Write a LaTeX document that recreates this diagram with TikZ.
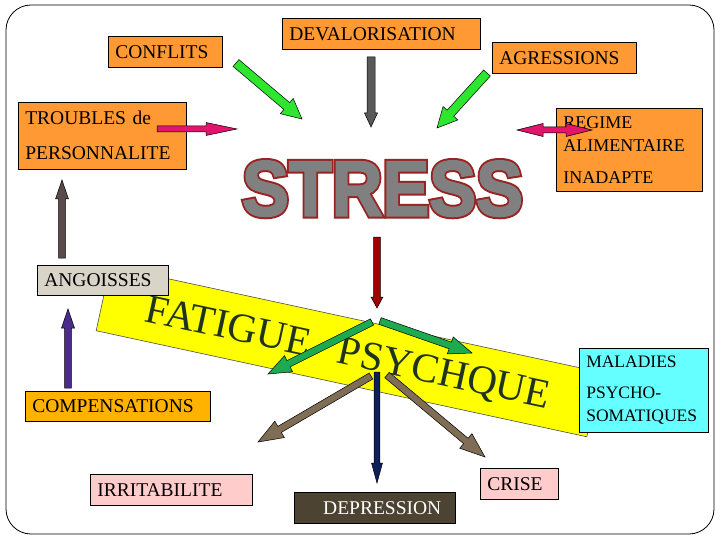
\documentclass[tikz,border=0pt]{standalone}
\usepackage{fontspec}
\setmainfont{Liberation Serif}
\newfontfamily\stressfont[FakeBold=2.6]{Liberation Sans Bold}
\newfontfamily\stressedge[FakeBold=7.7]{Liberation Sans Bold}
\usetikzlibrary{calc}

\definecolor{boxorange}{HTML}{FF9933}
\definecolor{compamber}{HTML}{FFB300}
\definecolor{angoissegray}{HTML}{D9D4C8}
\definecolor{irripink}{HTML}{FFCCCC}
\definecolor{depbrown}{HTML}{4D4333}
\definecolor{malcyan}{HTML}{66FFFF}
\definecolor{bandyellow}{HTML}{FFFF00}
\definecolor{bandtext}{HTML}{1F331F}
\definecolor{stressgray}{HTML}{808080}
\definecolor{stressred}{HTML}{992222}
\definecolor{arrgreen}{HTML}{2EE62E}
\definecolor{arrteal}{HTML}{1EAA50}
\definecolor{arrgray}{HTML}{595959}
\definecolor{arrpink}{HTML}{E0156B}
\definecolor{arrplum}{HTML}{5A4A4A}
\definecolor{arrindigo}{HTML}{4B2C8C}
\definecolor{arrred}{HTML}{A00000}
\definecolor{arrnavy}{HTML}{0F1F5A}
\definecolor{arrbrown}{HTML}{7F6E55}

% block arrow: [style](from)(to)(half shaft:half head:head length)
\def\blockarrow[#1](#2)(#3)(#4:#5:#6){\coordinate (ba-c) at ($(#3)!#6!(#2)$);
	\draw[#1] ($(#2)!#4!90:(#3)$) -- ($(ba-c)!#4!90:(#3)$) -- ($(ba-c)!#5!90:(#3)$) -- (#3) -- ($(ba-c)!#5!-90:(#3)$) -- ($(ba-c)!#4!-90:(#3)$) -- ($(#2)!#4!-90:(#3)$) -- cycle;}
% same, with a head at both ends
\def\blockdarrow[#1](#2)(#3)(#4:#5:#6){\coordinate (ba-a) at ($(#2)!#6!(#3)$);\coordinate (ba-b) at ($(#3)!#6!(#2)$);
	\draw[#1] (#2) -- ($(ba-a)!#5!90:(#3)$) -- ($(ba-a)!#4!90:(#3)$) -- ($(ba-b)!#4!90:(#3)$) -- ($(ba-b)!#5!90:(#3)$) -- (#3) -- ($(ba-b)!#5!-90:(#3)$) -- ($(ba-b)!#4!-90:(#3)$) -- ($(ba-a)!#4!-90:(#3)$) -- ($(ba-a)!#5!-90:(#3)$) -- cycle;}

\tikzset{
	box/.style={draw=black, line width=0.6pt, anchor=north west, inner xsep=7pt, inner ysep=0pt, align=left, font=\fontsize{19.5}{23}\selectfont},
	onebox/.style={box, text height=13pt, text depth=0pt},
	arr/.style={draw=black, line width=0.5pt, line join=miter},
	stresstext/.style={inner sep=0pt, text height=56pt, text depth=0pt},
}

\begin{document}
\begin{tikzpicture}[x=1pt, y=-1pt]
			%%%%% START %%%%%
			\useasboundingbox (0,0) rectangle (720,540);
			
			\draw[line width=0.8pt, rounded corners=25pt] (6,5) rectangle (714,534);
			
			\node[draw=black!70, line width=0.6pt, fill=bandyellow, rotate=-12.2, minimum width=502pt, minimum height=66pt, inner sep=0pt, text=bandtext, font=\fontsize{41}{41}\selectfont, text height=27pt, text depth=0pt] (band) at (348.5,351.5) {FATIGUE\hspace{0.45em} PSYCHQUE};
			
			\node[stresstext, text=stressred, font=\stressedge\fontsize{78}{78}\selectfont] (stress-edge) at (382.5,187.5) {\scalebox{0.9}[1]{STRESS}};
			\node[stresstext, text=stressgray, font=\stressfont\fontsize{78}{78}\selectfont] (stress) at (stress-edge) {\scalebox{0.9}[1]{STRESS}};
			
			\node[onebox, fill=boxorange, text width=100pt, minimum height=31pt] (conflits) at (108,36) {CONFLITS};
			\node[onebox, fill=boxorange, text width=184pt, minimum height=31pt] (deval) at (282,18) {DEVALORISATION};
			\node[onebox, fill=boxorange, text width=130pt, minimum height=31pt] (agress) at (492,42) {AGRESSIONS};
			\node[box, fill=boxorange, text width=154pt, minimum height=67pt, font=\fontsize{19.5}{35}\selectfont] (troubles) at (18,102) {TROUBLES de\\PERSONNALITE};
			\node[box, fill=boxorange, text width=132pt, minimum height=83pt, font=\fontsize{18}{23}\selectfont] (regime) at (556,108) {REGIME\\ALIMENTAIRE\\[9pt]INADAPTE};
			\node[onebox, fill=angoissegray, text width=117pt, minimum height=30pt] (angoisses) at (37,265) {ANGOISSES};
			\node[onebox, fill=compamber, text width=171pt, minimum height=30pt] (compens) at (25,391) {COMPENSATIONS};
			\node[onebox, fill=irripink, text width=148pt, minimum height=31pt] (irrit) at (90,474) {IRRITABILITE};
			\node[onebox, fill=depbrown, text=white, align=right, inner xsep=14pt, text width=133pt, minimum height=31pt] (depress) at (294,492) {DEPRESSION};
			\node[onebox, fill=irripink, text width=64pt, minimum height=31pt] (crise) at (480,468) {CRISE};
			\node[box, fill=malcyan, text width=115pt, minimum height=84pt, font=\fontsize{17.5}{23}\selectfont] (maladies) at (579,348) {MALADIES\\[8pt]PSYCHO-\\SOMATIQUES};
			
			% arrow ends
			\coordinate (conf-s) at (236,63);  \coordinate (conf-e) at (302,119);
			\coordinate (dev-s) at (371,57);   \coordinate (dev-e) at (371,127);
			\coordinate (agr-s) at (487,73);   \coordinate (agr-e) at (437,128);
			\coordinate (trb-s) at (157,129);  \coordinate (trb-e) at (237,129);
			\coordinate (reg-s) at (517,130);  \coordinate (reg-e) at (592,130);
			\coordinate (ang-s) at (62,258);   \coordinate (ang-e) at (62,180);
			\coordinate (comp-s) at (68,388);  \coordinate (comp-e) at (68,309);
			\coordinate (str-s) at (377,237);  \coordinate (str-e) at (377,308);
			\coordinate (fat-s) at (372,322);  \coordinate (fat-e) at (268,374);
			\coordinate (psy-s) at (380,321);  \coordinate (psy-e) at (472,353);
			\coordinate (irr-s) at (371,376);  \coordinate (irr-e) at (258,442);
			\coordinate (dep-s) at (377,372);  \coordinate (dep-e) at (377,483);
			\coordinate (cri-s) at (387,375);  \coordinate (cri-e) at (485,457);
			
			\blockarrow[arr, fill=arrgreen](conf-s)(conf-e)(4.5pt:10pt:20pt)
			\blockarrow[arr, fill=arrgray](dev-s)(dev-e)(4pt:6.5pt:14pt)
			\blockarrow[arr, fill=arrgreen](agr-s)(agr-e)(4.5pt:10pt:20pt)
			\blockarrow[arr, fill=arrpink](trb-s)(trb-e)(3pt:6.5pt:31pt)
			\blockdarrow[arr, fill=arrpink](reg-s)(reg-e)(3pt:6.5pt:26pt)
			\blockarrow[arr, fill=arrplum](ang-s)(ang-e)(3.3pt:6.5pt:19pt)
			\blockarrow[arr, fill=arrindigo](comp-s)(comp-e)(3.3pt:6.5pt:19pt)
			\blockarrow[arr, fill=arrred](str-s)(str-e)(3.3pt:6pt:11pt)
			\blockarrow[arr, fill=arrteal](fat-s)(fat-e)(3.5pt:9pt:23pt)
			\blockarrow[arr, fill=arrteal](psy-s)(psy-e)(3.5pt:9pt:23pt)
			\blockarrow[arr, fill=arrbrown](irr-s)(irr-e)(3.5pt:9.5pt:25pt)
			\blockarrow[arr, fill=arrnavy](dep-s)(dep-e)(2.8pt:5.5pt:20pt)
			\blockarrow[arr, fill=arrbrown](cri-s)(cri-e)(3.5pt:9.5pt:25pt)
			
			%%%%% END %%%%%
\end{tikzpicture}
\end{document}
